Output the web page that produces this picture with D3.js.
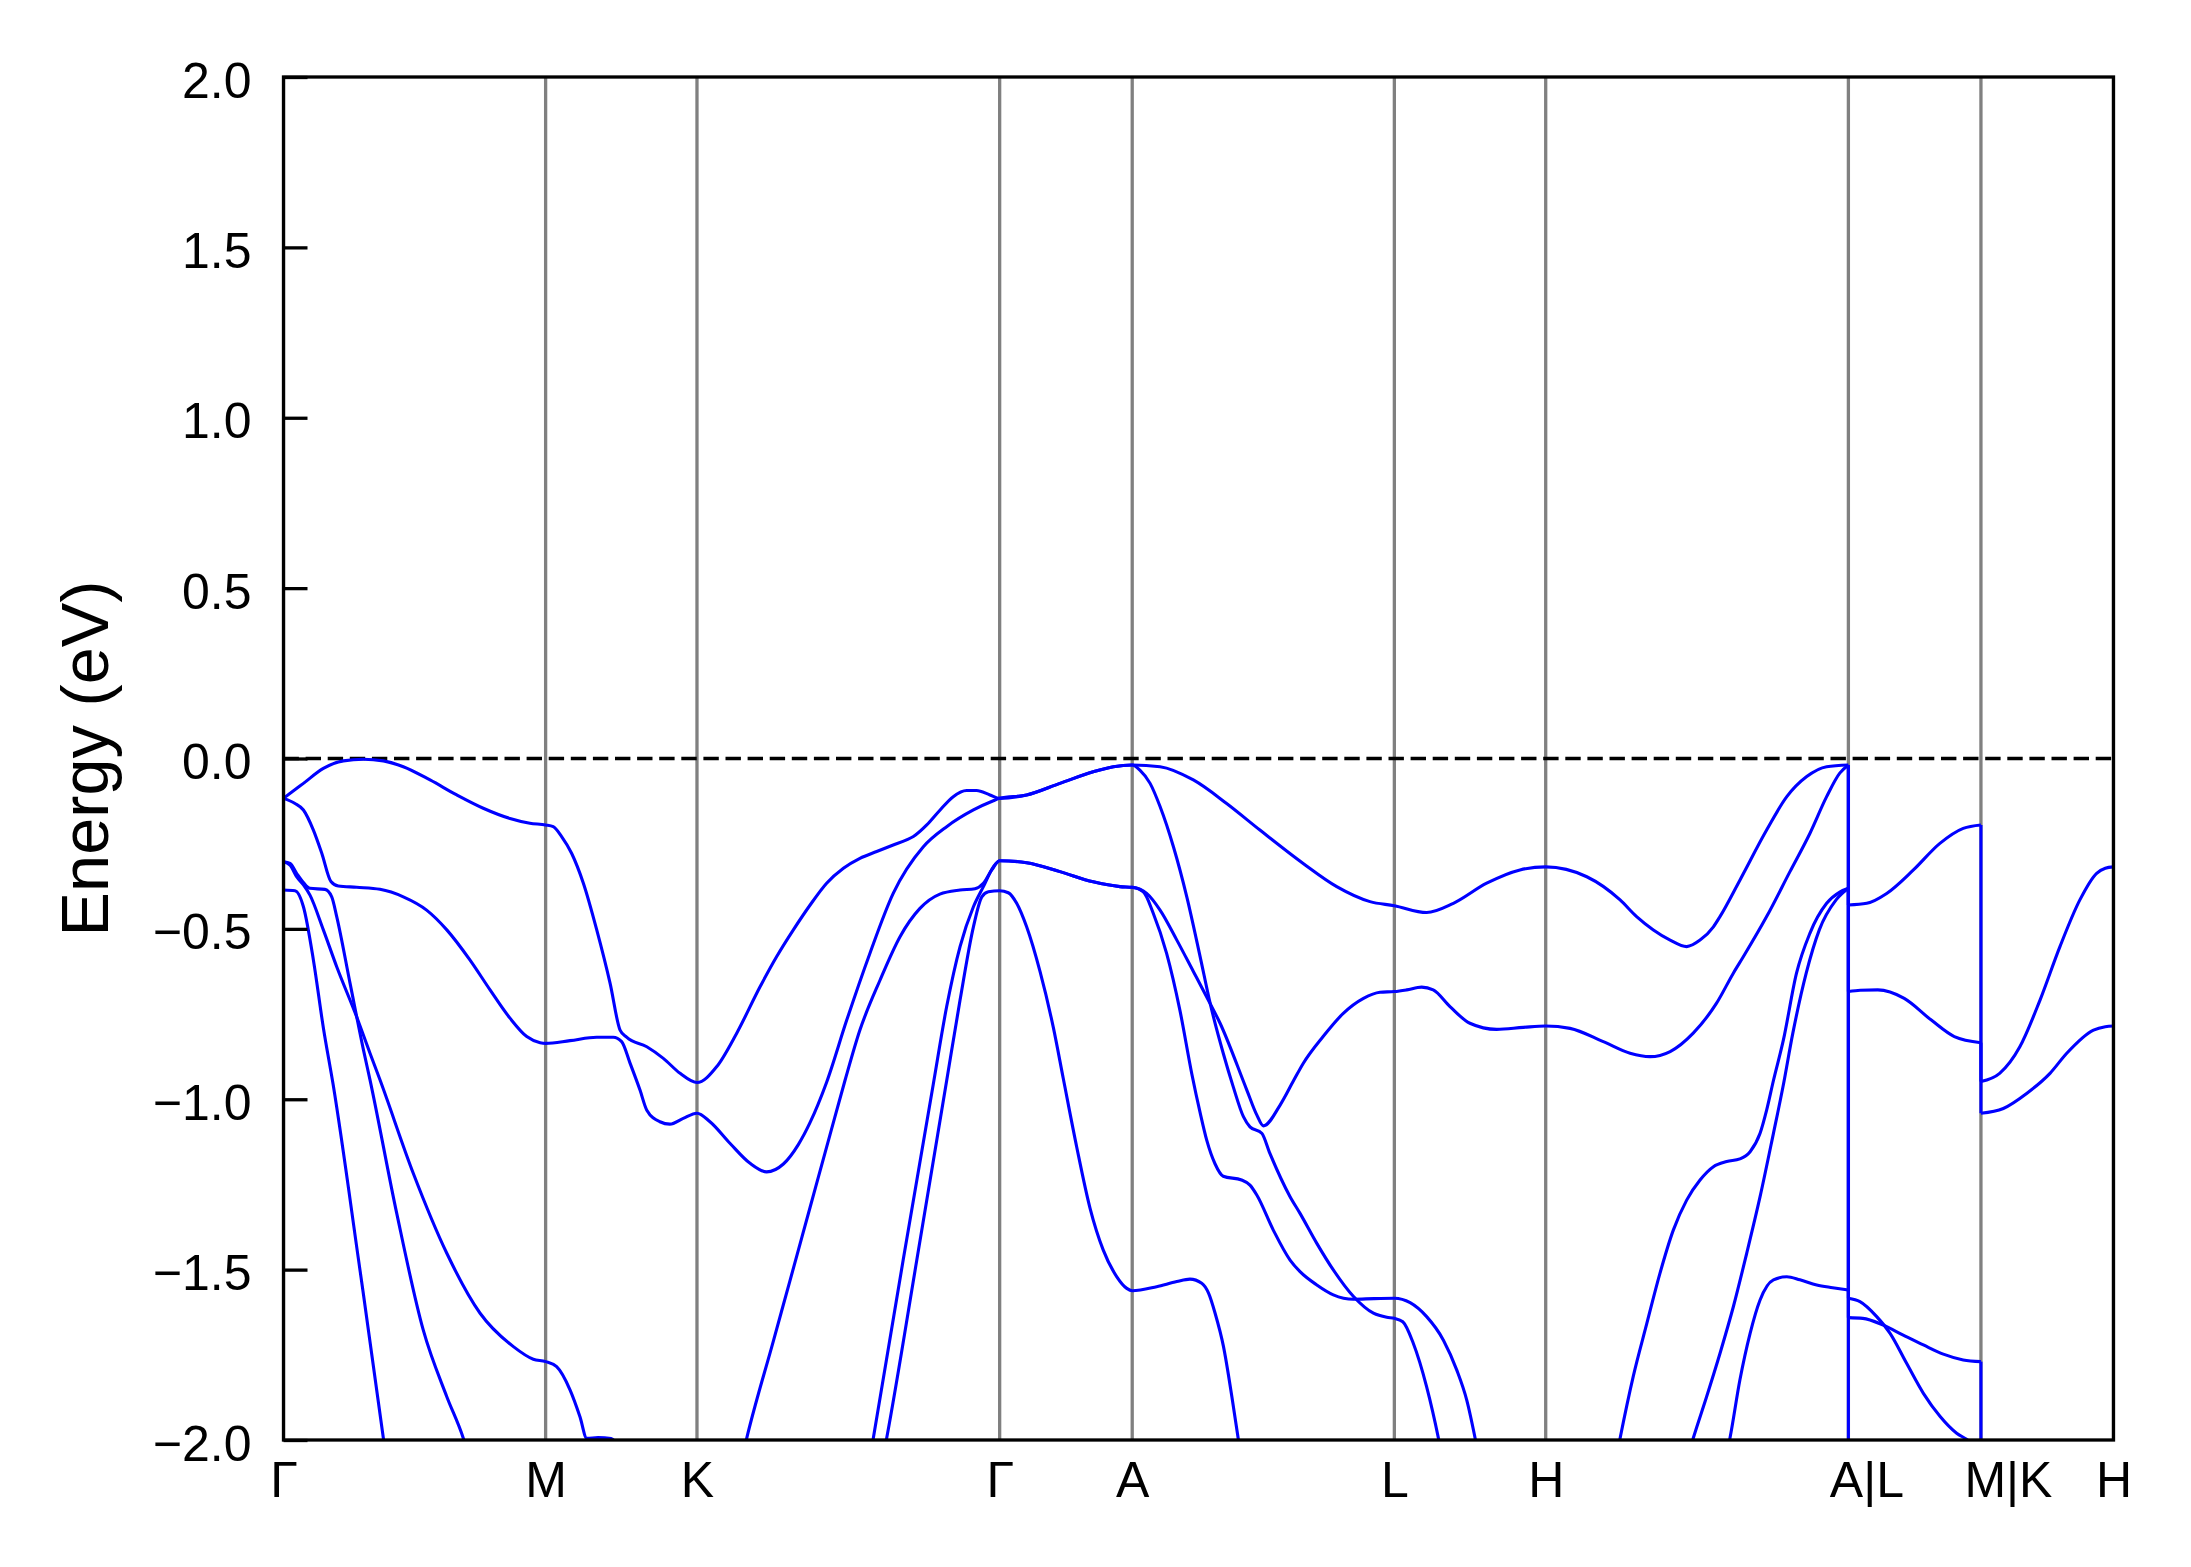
<!DOCTYPE html>
<html>
<head>
<meta charset="utf-8">
<script src="https://cdn.jsdelivr.net/npm/d3@7/dist/d3.min.js"></script>
<style>
  html, body { margin: 0; padding: 0; background: #fff; }
  svg { display: block; }
</style>
</head>
<body>
<div id="chart"></div>
<script>
// Band structure along Γ–M–K–Γ–A–L–H–A|L–M|K–H, energies in eV (E - E_F).
// k is path length in units of |ΓM|. A repeated k marks a jump in the path.
const kTicks  = [0, 1, 1.5774, 2.7321, 3.2378, 4.2378, 4.8152, 5.9699, 6.4756, 6.9813];
const kLabels = ['Γ', 'M', 'K', 'Γ', 'A', 'L', 'H', 'A|L', 'M|K', 'H'];
const eTicks  = [-2, -1.5, -1, -0.5, 0, 0.5, 1, 1.5, 2];

const band1 = [
  [0,-0.117],[0.076,-0.073],[0.152,-0.029],[0.228,-0.007],[0.305,-0.002],[0.381,-0.007],[0.457,-0.024],
  [0.559,-0.063],[0.661,-0.107],[0.762,-0.146],[0.864,-0.176],[0.940,-0.190],[1,-0.195],
  [1.029,-0.200],[1.061,-0.229],[1.099,-0.278],[1.144,-0.366],[1.195,-0.503],[1.246,-0.660],[1.284,-0.797],
  [1.309,-0.818],[1.386,-0.846],[1.449,-0.880],[1.513,-0.924],[1.5774,-0.951],
  [1.653,-0.904],[1.729,-0.806],[1.818,-0.670],[1.881,-0.582],[1.945,-0.503],[2.009,-0.430],[2.072,-0.366],
  [2.136,-0.322],[2.199,-0.293],[2.263,-0.273],[2.326,-0.254],[2.377,-0.239],[2.403,-0.229],[2.454,-0.195],
  [2.505,-0.151],[2.555,-0.112],[2.606,-0.094],[2.644,-0.094],[2.695,-0.107],[2.7321,-0.117],
  [2.835,-0.107],[2.962,-0.073],[3.089,-0.039],[3.166,-0.024],[3.2378,-0.019],
  [3.344,-0.024],[3.471,-0.063],[3.598,-0.132],[3.725,-0.210],[3.890,-0.308],[4.018,-0.376],
  [4.145,-0.420],[4.2378,-0.432],[4.361,-0.452],[4.463,-0.425],[4.590,-0.366],[4.717,-0.327],[4.8152,-0.318],
  [4.972,-0.347],[5.099,-0.415],[5.162,-0.464],[5.226,-0.503],[5.290,-0.533],[5.353,-0.552],[5.404,-0.533],
  [5.455,-0.494],[5.480,-0.464],[5.556,-0.357],[5.658,-0.210],[5.735,-0.112],[5.811,-0.053],[5.887,-0.024],[5.9699,-0.019],
  [5.9699,-0.430],[6.040,-0.425],[6.116,-0.396],[6.218,-0.327],[6.319,-0.249],[6.408,-0.205],[6.4756,-0.195],
  [6.4756,-0.948],[6.547,-0.924],[6.624,-0.846],[6.701,-0.709],[6.777,-0.552],[6.853,-0.415],[6.917,-0.337],
  [6.950,-0.322],[6.9813,-0.318]
];

const band2 = [
  [1.744,-2.07],[1.767,-1.995],[1.869,-1.709],[1.932,-1.533],[2.009,-1.317],[2.085,-1.104],[2.142,-0.945],
  [2.199,-0.797],[2.276,-0.650],[2.352,-0.523],[2.428,-0.440],[2.504,-0.398],[2.581,-0.386],[2.638,-0.382],
  [2.670,-0.366],[2.702,-0.327],[2.7321,-0.300],
  [2.835,-0.306],[2.962,-0.332],[3.089,-0.362],[3.191,-0.376],[3.2378,-0.378],
  [3.293,-0.396],[3.344,-0.445],[3.408,-0.533],[3.471,-0.625],[3.522,-0.700],[3.573,-0.777],[3.675,-0.973],
  [3.713,-1.046],[3.738,-1.078],[3.802,-1.017],[3.855,-0.943],[3.890,-0.895],[3.966,-0.816],[4.043,-0.748],
  [4.120,-0.704],[4.183,-0.686],[4.2378,-0.684],
  [4.285,-0.679],[4.342,-0.671],[4.386,-0.679],[4.450,-0.728],[4.526,-0.777],[4.628,-0.795],[4.730,-0.789],[4.8152,-0.785],
  [4.908,-0.792],[5.035,-0.831],[5.137,-0.865],[5.213,-0.875],[5.290,-0.860],[5.378,-0.806],[5.467,-0.718],
  [5.531,-0.630],[5.569,-0.582],[5.658,-0.464],[5.747,-0.332],[5.823,-0.220],[5.887,-0.112],[5.937,-0.043],[5.9699,-0.019],
  [5.9699,-0.684],[6.015,-0.680],[6.082,-0.679],[6.183,-0.704],[6.285,-0.767],[6.374,-0.816],[6.4756,-0.834],
  [6.4756,-1.041],[6.561,-1.027],[6.650,-0.983],[6.739,-0.924],[6.803,-0.865],[6.905,-0.797],[6.950,-0.787],[6.9813,-0.785]
];

const band3 = [
  [5.085,-2.05],[5.099,-1.995],[5.149,-1.814],[5.201,-1.658],[5.251,-1.511],[5.302,-1.384],[5.353,-1.296],
  [5.404,-1.237],[5.455,-1.198],[5.506,-1.183],[5.556,-1.175],[5.595,-1.154],[5.633,-1.100],[5.658,-1.032],
  [5.684,-0.945],[5.722,-0.826],[5.772,-0.630],[5.823,-0.513],[5.887,-0.425],[5.937,-0.392],[5.9699,-0.381],
  [5.9699,-1.584],[6.014,-1.594],[6.078,-1.638],[6.129,-1.687],[6.192,-1.775],[6.256,-1.863],[6.320,-1.931],
  [6.383,-1.980],[6.421,-1.998],[6.4756,-2.03],
  [6.4756,-2.6]
];

const band4 = [
  [5.357,-2.05],[5.378,-1.995],[5.429,-1.873],[5.480,-1.746],[5.531,-1.609],[5.582,-1.452],[5.633,-1.286],
  [5.684,-1.100],[5.720,-0.965],[5.758,-0.806],[5.809,-0.630],[5.859,-0.503],[5.923,-0.415],[5.9699,-0.381],
  [5.9699,-1.641],[6.025,-1.643],[6.103,-1.663],[6.179,-1.692],[6.256,-1.721],[6.332,-1.748],[6.408,-1.765],[6.4756,-1.770],
  [6.4756,-2.4]
];

const band5 = [
  [5.500,-2.06],[5.518,-1.995],[5.556,-1.824],[5.595,-1.687],[5.633,-1.589],[5.684,-1.530],[5.735,-1.521],
  [5.785,-1.530],[5.849,-1.545],[5.910,-1.553],[5.9699,-1.560],
  [5.9699,-2.3]
];

const band6 = [
  [0,-0.117],[0.044,-0.132],[0.076,-0.151],[0.114,-0.210],[0.146,-0.278],[0.181,-0.361],[0.209,-0.374],
  [0.279,-0.378],[0.368,-0.384],[0.457,-0.406],[0.546,-0.445],[0.623,-0.503],[0.711,-0.591],[0.788,-0.679],
  [0.864,-0.762],[0.928,-0.816],[0.979,-0.834],[1,-0.836],
  [1.093,-0.828],[1.195,-0.818],[1.258,-0.818],[1.290,-0.831],[1.322,-0.894],[1.360,-0.973],[1.386,-1.032],
  [1.436,-1.066],[1.474,-1.073],[1.525,-1.056],[1.5774,-1.041],
  [1.627,-1.066],[1.703,-1.129],[1.780,-1.188],[1.843,-1.213],[1.907,-1.190],[1.964,-1.133],[2.009,-1.068],
  [2.072,-0.950],[2.149,-0.767],[2.237,-0.572],[2.326,-0.396],[2.441,-0.259],[2.530,-0.200],[2.632,-0.151],
  [2.708,-0.124],[2.7321,-0.117],
  [2.835,-0.107],[2.962,-0.073],[3.089,-0.039],[3.166,-0.024],[3.2378,-0.019],
  [3.267,-0.034],[3.306,-0.073],[3.344,-0.141],[3.395,-0.259],[3.446,-0.406],[3.497,-0.582],[3.535,-0.718],
  [3.585,-0.865],[3.623,-0.963],[3.662,-1.051],[3.687,-1.081],[3.732,-1.100],[3.763,-1.159],[3.840,-1.286],
  [3.878,-1.335],[3.942,-1.423],[4.005,-1.501],[4.082,-1.579],[4.158,-1.628],[4.209,-1.640],[4.2378,-1.643],
  [4.270,-1.653],[4.310,-1.716],[4.361,-1.844],[4.406,-1.995],[4.420,-2.05]
];

const band7 = [
  [2.240,-2.04],[2.250,-1.995],[2.364,-1.472],[2.479,-0.955],[2.530,-0.728],[2.581,-0.552],[2.632,-0.435],
  [2.670,-0.376],[2.708,-0.318],[2.7321,-0.300],
  [2.835,-0.306],[2.962,-0.332],[3.089,-0.362],[3.191,-0.376],[3.2378,-0.378],
  [3.280,-0.391],[3.318,-0.454],[3.369,-0.572],[3.420,-0.740],[3.465,-0.925],[3.497,-1.040],[3.522,-1.120],
  [3.554,-1.190],[3.585,-1.226],[3.655,-1.237],[3.687,-1.252],[3.713,-1.281],[3.776,-1.384],[3.840,-1.472],
  [3.878,-1.506],[3.942,-1.545],[4.005,-1.574],[4.082,-1.587],[4.160,-1.585],[4.2378,-1.584],
  [4.298,-1.597],[4.361,-1.638],[4.425,-1.707],[4.476,-1.795],[4.514,-1.883],[4.546,-1.995],[4.560,-2.05]
];

const band8 = [
  [2.290,-2.04],[2.301,-1.995],[2.416,-1.472],[2.530,-0.945],[2.581,-0.709],[2.632,-0.494],[2.664,-0.406],
  [2.689,-0.391],[2.7321,-0.388],
  [2.765,-0.394],[2.797,-0.425],[2.835,-0.494],[2.886,-0.625],[2.937,-0.790],[2.975,-0.940],[3.026,-1.140],
  [3.077,-1.320],[3.127,-1.442],[3.179,-1.521],[3.217,-1.555],[3.2378,-1.562],
  [3.331,-1.550],[3.408,-1.535],[3.458,-1.528],[3.503,-1.540],[3.529,-1.569],[3.554,-1.628],[3.586,-1.726],
  [3.618,-1.873],[3.642,-1.995],[3.652,-2.05]
];

const band9 = [
  [0,-0.303],[0.025,-0.313],[0.050,-0.347],[0.076,-0.371],[0.101,-0.401],[0.152,-0.503],[0.203,-0.611],
  [0.279,-0.758],[0.330,-0.865],[0.368,-0.943],[0.495,-1.217],[0.623,-1.452],[0.750,-1.628],[0.877,-1.726],
  [0.953,-1.763],[1,-1.770],
  [1.042,-1.785],[1.093,-1.853],[1.131,-1.932],[1.157,-1.995],[1.200,-1.993],[1.250,-1.996],[1.290,-2.04]
];

const band10 = [
  [0,-0.303],[0.025,-0.308],[0.050,-0.337],[0.076,-0.364],[0.101,-0.381],[0.158,-0.384],[0.184,-0.406],
  [0.203,-0.464],[0.254,-0.660],[0.305,-0.855],[0.330,-0.943],[0.432,-1.335],[0.533,-1.677],[0.623,-1.873],
  [0.686,-1.995],[0.700,-2.03]
];

const band11 = [
  [0,-0.386],[0.044,-0.388],[0.076,-0.435],[0.114,-0.591],[0.152,-0.790],[0.190,-0.960],[0.286,-1.470],
  [0.381,-1.995],[0.392,-2.06]
];

const bands = [band1, band2, band3, band4, band5, band6, band7, band8, band9, band10, band11];

// ---- layout ----
const W = 2191, H = 1567;
const plotL = 283.5, plotR = 2113.5, plotT = 77, plotB = 1440;

const x = d3.scaleLinear().domain([0, kTicks[kTicks.length - 1]]).range([plotL, plotR]);
const y = d3.scaleLinear().domain([-2, 2]).range([plotB, plotT]);

const FONT = '"Liberation Sans", Arial, Helvetica, sans-serif';

const svg = d3.select('#chart').append('svg')
  .attr('width', W).attr('height', H)
  .attr('viewBox', `0 0 ${W} ${H}`);
svg.append('rect').attr('width', W).attr('height', H).attr('fill', '#fff');

svg.append('clipPath').attr('id', 'plot-clip').append('rect')
  .attr('x', plotL).attr('y', plotT)
  .attr('width', plotR - plotL).attr('height', plotB - plotT);

const plot = svg.append('g').attr('clip-path', 'url(#plot-clip)');

// high-symmetry verticals
plot.selectAll('line.kline').data(kTicks).enter().append('line')
  .attr('class', 'kline')
  .attr('x1', (d) => x(d)).attr('x2', (d) => x(d))
  .attr('y1', plotT).attr('y2', plotB)
  .attr('stroke', '#808080').attr('stroke-width', 3.3);

// Fermi level
plot.append('line')
  .attr('x1', plotL).attr('x2', plotR)
  .attr('y1', y(0)).attr('y2', y(0))
  .attr('stroke', '#000').attr('stroke-width', 3.6)
  .attr('stroke-dasharray', '15.4 6.7');

// bands: smooth within a path segment, straight vertical at jumps (A|L, M|K)
const curve = d3.line().x((d) => x(d[0])).y((d) => y(d[1])).curve(d3.curveMonotoneX);
const straight = d3.line().x((d) => x(d[0])).y((d) => y(d[1]));

function splitBand(pts) {
  const branches = [[pts[0]]];
  const jumps = [];
  for (let i = 1; i < pts.length; i++) {
    if (pts[i][0] === pts[i - 1][0]) {
      jumps.push([pts[i - 1], pts[i]]);
      branches.push([pts[i]]);
    } else {
      branches[branches.length - 1].push(pts[i]);
    }
  }
  return { branches, jumps };
}

const bandG = plot.append('g')
  .attr('fill', 'none').attr('stroke', '#0000ff')
  .attr('stroke-width', 3.1).attr('stroke-linejoin', 'round');

bands.forEach((b) => {
  const { branches, jumps } = splitBand(b);
  branches.filter((br) => br.length > 1).forEach((br) => {
    bandG.append('path').attr('d', curve(br));
  });
  jumps.forEach((j) => {
    bandG.append('path').attr('d', straight(j));
  });
});

// y axis (ticks point inward)
const yAxis = d3.axisLeft(y)
  .tickValues(eTicks)
  .tickFormat(d3.format('.1f'))
  .tickSizeInner(-24).tickSizeOuter(0).tickPadding(32);
const gy = svg.append('g')
  .attr('transform', `translate(${plotL},0)`)
  .call(yAxis)
  .attr('font-family', FONT).attr('font-size', 50);
gy.select('.domain').remove();
gy.selectAll('.tick line').attr('stroke', '#000').attr('stroke-width', 3.3);
gy.selectAll('.tick text').attr('fill', '#000').attr('dy', '0.4em');

// x axis: labels only, the grey verticals act as ticks
const labelShift = { 'A|L': 18, 'M|K': 27 };
const xAxis = d3.axisBottom(x)
  .tickValues(kTicks)
  .tickFormat((d) => kLabels[kTicks.indexOf(d)])
  .tickSize(0).tickPadding(0);
const gx = svg.append('g')
  .attr('transform', `translate(0,${plotB})`)
  .call(xAxis)
  .attr('font-family', FONT).attr('font-size', 50);
gx.select('.domain').remove();
gx.selectAll('.tick text')
  .attr('fill', '#000')
  .attr('y', 57).attr('dy', 0)
  .attr('dx', (d) => labelShift[kLabels[kTicks.indexOf(d)]] || 0);

// y label
svg.append('text')
  .attr('transform', `translate(108,${y(0)}) rotate(-90)`)
  .attr('text-anchor', 'middle')
  .attr('font-family', FONT).attr('font-size', 66.7)
  .attr('fill', '#000')
  .text('Energy (eV)');

// frame
svg.append('rect')
  .attr('x', plotL).attr('y', plotT)
  .attr('width', plotR - plotL).attr('height', plotB - plotT)
  .attr('fill', 'none').attr('stroke', '#000').attr('stroke-width', 3.3);
</script>
</body>
</html>
